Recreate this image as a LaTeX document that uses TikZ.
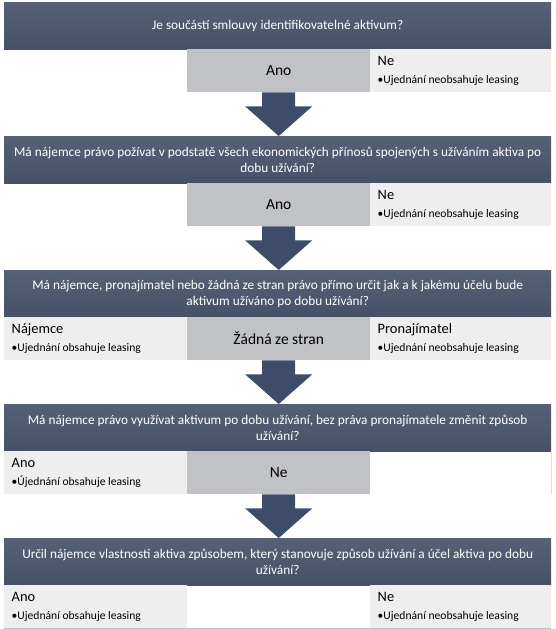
\documentclass[tikz,border=0pt]{standalone}
\usepackage{fontspec}
\setmainfont{Carlito}
\usetikzlibrary{calc}

\definecolor{hlavaH}{HTML}{566177}
\definecolor{hlavaD}{HTML}{465167}
\definecolor{sipkaC}{HTML}{3D4D69}
\definecolor{seda}{HTML}{C0C2C6}
\definecolor{svetla}{HTML}{EEEEEF}

% bunka s popiskem a odrazkou
\newcommand{\bunka}[2]{#1\\[2.5pt]\fontsize{11.6}{13}\selectfont\textbullet#2}
% plna sipka mezi radkem a dalsi otazkou
\newcommand{\blokSipka}[2]{%
  \fill[sipka] ($(#1.south)+(-16.5,0)$) -- ++(0,14) -- ++(-17,0)
    -- (#1.south |- #2.north) -- ($(#1.south)+(33.5,14)$) -- ++(-17,0)
    -- ($(#1.south)+(16.5,0)$) -- cycle;}

\begin{document}
\begin{tikzpicture}[x=1pt,y=-1pt,
  otazka/.style={anchor=north west,minimum width=547pt,minimum height=47pt,
    text width=547pt,align=flush center,inner sep=0pt,text=white,
    top color=hlavaH,bottom color=hlavaD,font=\fontsize{13.3}{16}\selectfont},
  sede/.style={anchor=north west,fill=seda,minimum width=183pt,minimum height=43pt,
    inner sep=0pt,font=\fontsize{15.5}{18}\selectfont},
  svetle/.style={anchor=north west,fill=svetla,minimum width=181pt,minimum height=43pt,
    text width=166pt,inner xsep=7.5pt,inner ysep=0pt,align=flush left,
    font=\fontsize{14.4}{16}\selectfont},
  sipka/.style={fill=sipkaC},
  linka/.style={draw=black!25,line width=0.8pt}]
  \useasboundingbox (0,0) rectangle (555,629);

  % otazky
  \node[otazka] (h1) at (4,2) {Je součástí smlouvy identifikovatelné aktivum?};
  \node[otazka] (h2) at (4,136) {Má nájemce právo požívat v podstatě všech ekonomických přínosů spojených s užíváním aktiva po\\dobu užívání?};
  \node[otazka] (h3) at (4,270) {Má nájemce, pronajímatel nebo žádná ze stran právo přímo určit jak a k jakému účelu bude\\aktivum užíváno po dobu užívání?};
  \node[otazka] (h4) at (4,404) {Má nájemce právo využívat aktivum po dobu užívání, bez práva pronajímatele změnit způsob\\užívání?};
  \node[otazka] (h5) at (4,538) {Určil nájemce vlastnosti aktiva způsobem, který stanovuje způsob užívání a účel aktiva po dobu\\užívání?};

  % odpovedi
  \node[sede] (a1) at (187,49) {Ano};
  \node[svetle] (n1) at (370,49) {\bunka{Ne}{Ujednání neobsahuje leasing}};

  \node[sede] (a2) at (187,183) {Ano};
  \node[svetle] (n2) at (370,183) {\bunka{Ne}{Ujednání neobsahuje leasing}};

  \node[svetle,minimum width=183pt,text width=168pt] (j3) at (4,317) {\bunka{Nájemce}{Ujednání obsahuje leasing}};
  \node[sede] (z3) at (187,317) {Žádná ze stran};
  \node[svetle] (p3) at (370,317) {\bunka{Pronajímatel}{Ujednání neobsahuje leasing}};

  \node[svetle,minimum width=183pt,text width=168pt] (a4) at (4,451) {\bunka{Ano}{Újednání obsahuje leasing}};
  \node[sede] (n4) at (187,451) {Ne};
  \draw[linka,draw=black!12] (h4.south east) -- ++(0,43);

  \node[svetle,minimum width=183pt,text width=168pt] (a5) at (4,585) {\bunka{Ano}{Ujednání obsahuje leasing}};
  \node[svetle] (n5) at (370,585) {\bunka{Ne}{Ujednání neobsahuje leasing}};
  \draw[linka] (a5.south west) -- (n5.south east);

  \foreach \a/\b in {a1/h2,a2/h3,z3/h4,n4/h5}
    {\blokSipka{\a}{\b}}
\end{tikzpicture}
\end{document}
